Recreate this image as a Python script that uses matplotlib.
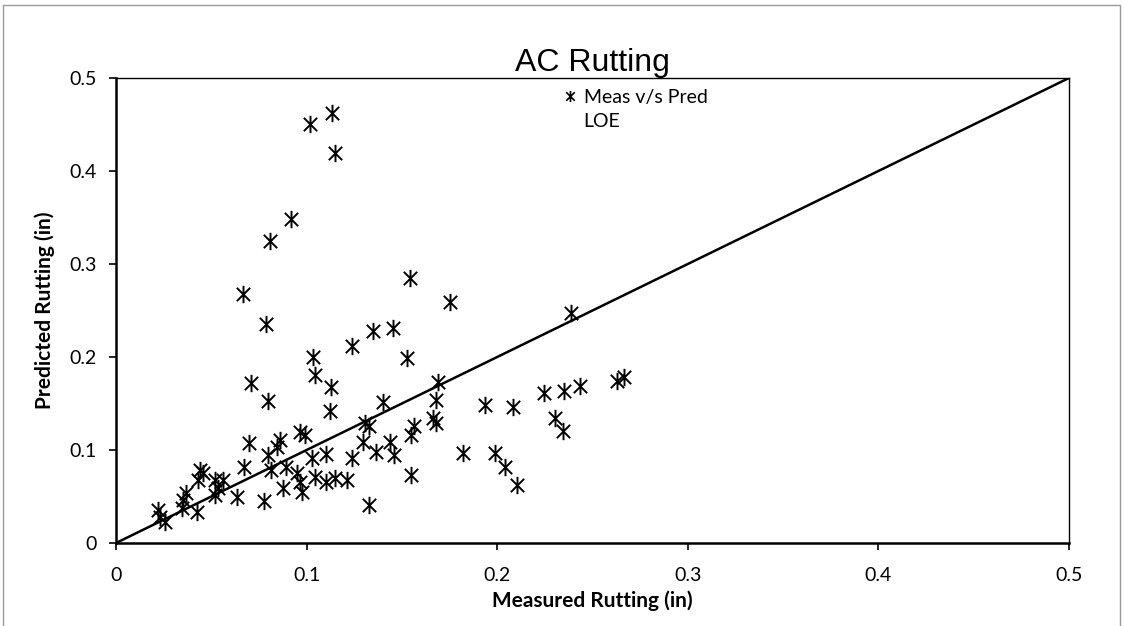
import numpy as np
import matplotlib.pyplot as plt
from matplotlib.path import Path
from matplotlib.lines import Line2D
from matplotlib.patches import Rectangle

# measured vs predicted rutting (in)
meas = [0.1019, 0.1135, 0.1147, 0.0916, 0.0808, 0.1543, 0.0668, 0.0785, 0.1347, 0.1452,
        0.1237, 0.1032, 0.1525, 0.1044, 0.0707, 0.1128, 0.0799, 0.1123, 0.1399, 0.1752,
        0.1690, 0.1680, 0.1665, 0.1680, 0.1308, 0.1326, 0.1298, 0.1563, 0.1546, 0.1438,
        0.1364, 0.1459, 0.1546, 0.1329, 0.1237, 0.1102, 0.1030, 0.1210, 0.1151, 0.1102,
        0.1044, 0.0965, 0.0992, 0.0860, 0.0843, 0.0799, 0.0699, 0.0812, 0.0890, 0.0951,
        0.0965, 0.0974, 0.0874, 0.0777, 0.0672, 0.0637, 0.0519, 0.0537, 0.0519, 0.0563,
        0.0441, 0.0458, 0.0432, 0.0423, 0.0367, 0.0353, 0.0345, 0.0222, 0.0231, 0.0257,
        0.2387, 0.1936, 0.2085, 0.2247, 0.2350, 0.2434, 0.2627, 0.2665, 0.2303, 0.2347,
        0.1822, 0.1988, 0.2041, 0.2102]
pred = [0.4505, 0.4620, 0.4197, 0.3484, 0.3244, 0.2846, 0.2677, 0.2355, 0.2276, 0.2308,
        0.2118, 0.1997, 0.1989, 0.1806, 0.1724, 0.1681, 0.1523, 0.1419, 0.1520, 0.2595,
        0.1735, 0.1540, 0.1340, 0.1290, 0.1287, 0.1258, 0.1090, 0.1258, 0.1161, 0.1090,
        0.0982, 0.0946, 0.0731, 0.0409, 0.0911, 0.0957, 0.0911, 0.0677, 0.0695, 0.0659,
        0.0713, 0.1197, 0.1161, 0.1108, 0.1036, 0.0946, 0.1079, 0.0785, 0.0821, 0.0749,
        0.0659, 0.0552, 0.0588, 0.0452, 0.0821, 0.0491, 0.0516, 0.0588, 0.0677, 0.0677,
        0.0785, 0.0749, 0.0677, 0.0337, 0.0534, 0.0462, 0.0373, 0.0355, 0.0283, 0.0229,
        0.2470, 0.1484, 0.1459, 0.1616, 0.1638, 0.1688, 0.1745, 0.1782, 0.1348, 0.1204,
        0.0964, 0.0964, 0.0814, 0.0624]
loe = [0, 0.5]
ticks = [0, 0.1, 0.2, 0.3, 0.4, 0.5]
tick_labels = ['0', '0.1', '0.2', '0.3', '0.4', '0.5']

# Excel-style star marker: X plus a vertical bar
star = Path([(-1, -1), (1, 1), (-1, 1), (1, -1), (0, -1.3), (0, 1.3)],
            [Path.MOVETO, Path.LINETO, Path.MOVETO, Path.LINETO, Path.MOVETO, Path.LINETO])

lab_font = 'Lato'

fig = plt.figure(figsize=(11.24, 6.26), dpi=100)
ax = fig.add_axes([116/1124, 83/626, 953/1124, 465/626])

ax.plot(meas, pred, linestyle='none', marker=star, markersize=12.5,
        markerfacecolor='none', markeredgecolor='black', markeredgewidth=1.4)
ax.plot(loe, loe, color='black', linewidth=1.8)

ax.set_xlim(0, 0.5)
ax.set_ylim(0, 0.5)
ax.set_xticks(ticks)
ax.set_yticks(ticks)
ax.set_xticklabels(tick_labels, fontsize=14, family=lab_font)
ax.set_yticklabels(tick_labels, fontsize=14, family=lab_font)
ax.tick_params(direction='out', length=5, width=1.2, pad=12)
ax.tick_params(axis='y', pad=9)
for s in ['left', 'bottom']:
    ax.spines[s].set_linewidth(1.8)
for s in ['top', 'right']:
    ax.spines[s].set_linewidth(1.0)

ax.set_title('AC Rutting', fontsize=23, family='Liberation Sans', pad=2)
ax.set_xlabel('Measured Rutting (in)', fontsize=15, fontweight='bold', family=lab_font, labelpad=5)
ax.set_ylabel('Predicted Rutting (in)', fontsize=15, fontweight='bold', family=lab_font, labelpad=10)

handles = [Line2D([], [], linestyle='none', marker=star, markersize=8,
                  markerfacecolor='none', markeredgecolor='black', markeredgewidth=1.2),
           Line2D([], [], linestyle='none')]
ax.legend(handles, ['Meas v/s Pred', 'LOE'], loc='upper left', bbox_to_anchor=(0.452, 1.015),
          frameon=False, handlelength=0.6, handletextpad=0.4, labelspacing=0.4,
          prop={'family': lab_font, 'size': 14})

fig.patches.append(Rectangle((3/1124, -0.01), 1117/1124, 1.0 - 5/626 + 0.01,
                             transform=fig.transFigure, fill=False,
                             edgecolor='#999999', linewidth=1.0))

plt.savefig('out.png', dpi=100)
